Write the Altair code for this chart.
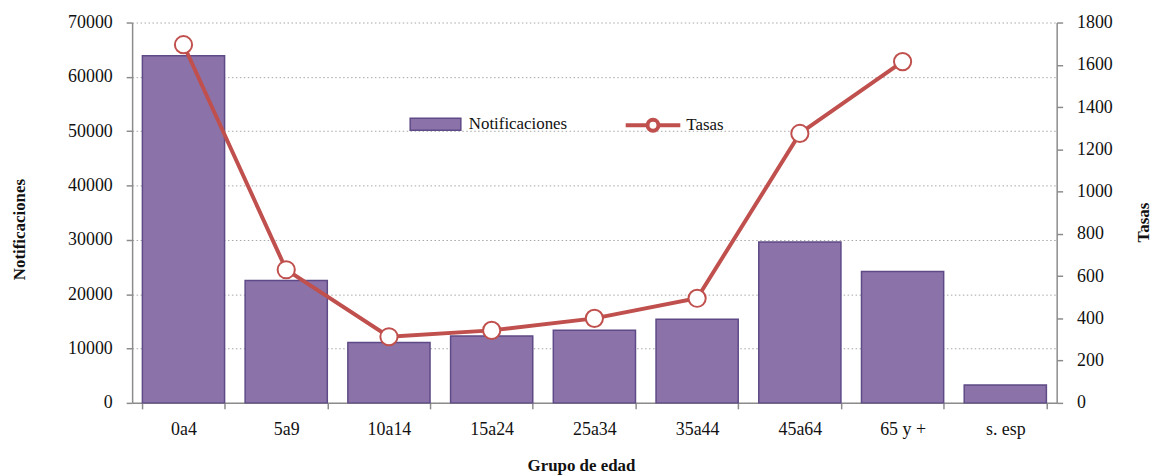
import altair as alt
import pandas as pd

grupos = ["0a4", "5a9", "10a14", "15a24", "25a34", "35a44", "45a64", "65 y +", "s. esp"]
notificaciones = [63900, 22500, 11100, 12300, 13350, 15400, 29600, 24200, 3300]
tasa_grupos = ["0a4", "5a9", "10a14", "15a24", "25a34", "35a44", "45a64", "65 y +"]
tasas = [1695, 630, 313, 343, 400, 495, 1275, 1615]

PURPLE = "#8B73AA"
PURPLE_DARK = "#5E4A86"
RED = "#C0504D"
GREY = "#8C8C8C"
FONT = "Liberation Serif, Times New Roman, serif"

df_b = pd.DataFrame({"grupo": grupos, "notif": notificaciones, "serie": "Notificaciones"})
df_l = pd.DataFrame({"grupo": tasa_grupos, "tasa": tasas, "serie": "Tasas"})

xenc = alt.X(
    "grupo:N",
    sort=grupos,
    scale=alt.Scale(domain=grupos, paddingInner=0.2, paddingOuter=0.1),
    axis=alt.Axis(
        title="Grupo de edad",
        labelAngle=0,
        tickBand="extent",
        labelPadding=12,
        titleX=452,
        titleY=63,
        titleBaseline="middle",
        titleAlign="center",
    ),
)

bars = alt.Chart(df_b).mark_bar(stroke=PURPLE_DARK, strokeWidth=1.5).encode(
    x=xenc,
    y=alt.Y(
        "notif:Q",
        scale=alt.Scale(domain=[0, 70000], nice=False),
        axis=alt.Axis(
            values=list(range(0, 70001, 10000)),
            format="d",
            title="Notificaciones",
            grid=True,
            gridColor="#A6A6A6",
            gridDash=[1.5, 2.5],
            gridWidth=1,
            labelPadding=14,
            titleAngle=-90,
            titleX=-113,
            titleY=208,
            titleBaseline="middle",
            titleAlign="center",
        ),
    ),
    fill=alt.Fill(
        "serie:N",
        scale=alt.Scale(domain=["Notificaciones"], range=[PURPLE]),
        legend=alt.Legend(
            orient="none",
            legendX=279,
            legendY=76,
            title=None,
            padding=0,
            symbolType="M-1,-0.235H1V0.235H-1Z",
            symbolSize=2601,
            symbolStrokeColor=PURPLE_DARK,
            symbolStrokeWidth=1.5,
            labelOffset=7,
            labelFont=FONT,
            labelFontSize=17,
            labelColor="#111111",
        ),
    ),
)

yr_axis = alt.Axis(
    orient="right",
    values=list(range(0, 1801, 200)),
    format="d",
    title="Tasas",
    grid=False,
    labelPadding=14,
    titleAngle=-90,
    titleX=87,
    titleY=201,
    titleBaseline="middle",
    titleAlign="center",
)
yr = alt.Y("tasa:Q", scale=alt.Scale(domain=[0, 1800], nice=False), axis=yr_axis)

line = alt.Chart(df_l).mark_line(strokeWidth=4).encode(
    x=alt.X("grupo:N", sort=grupos),
    y=yr,
    stroke=alt.Stroke(
        "serie:N",
        scale=alt.Scale(domain=["Tasas"], range=[RED]),
        legend=alt.Legend(
            orient="none",
            legendX=495,
            legendY=74,
            title=None,
            padding=0,
            symbolType="M-1,0H-0.2M0.2,0H1M0.2,0A0.2,0.2 0 1,1 -0.2,0A0.2,0.2 0 1,1 0.2,0Z",
            symbolSize=3025,
            symbolStrokeWidth=4,
            symbolFillColor="white",
            labelOffset=4,
            labelFont=FONT,
            labelFontSize=17,
            labelColor="#111111",
        ),
    ),
)

points = alt.Chart(df_l).mark_point(
    filled=True, fill="white", stroke=RED, strokeWidth=2, size=300, opacity=1
).encode(x=alt.X("grupo:N", sort=grupos), y=yr)

chart = (
    alt.layer(bars, alt.layer(line, points))
    .resolve_scale(y="independent", fill="independent", stroke="independent")
    .properties(
        width=931,
        height=383,
        autosize=alt.AutoSizeParams(type="none"),
        padding={"left": 125, "top": 13, "right": 96, "bottom": 71},
    )
    .configure(font=FONT)
    .configure_view(stroke=None)
    .configure_legend(labelFont=FONT)
    .configure_axis(
        labelFont=FONT,
        labelFontSize=18,
        labelColor="#111111",
        titleFont=FONT,
        titleFontSize=17,
        titleFontWeight="bold",
        titleColor="#111111",
        domainColor=GREY,
        domainWidth=1.5,
        tickColor=GREY,
        tickWidth=1.5,
        tickSize=6,
    )
)

chart.save("out.html", embed_options={"renderer": "svg", "actions": False})
